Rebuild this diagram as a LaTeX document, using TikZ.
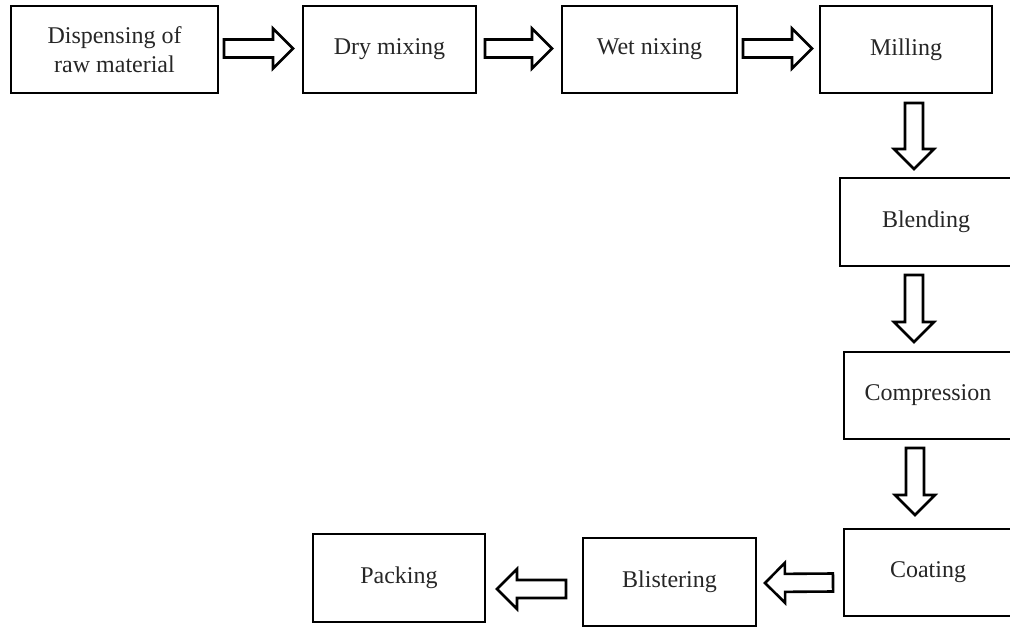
\documentclass[tikz,border=0pt]{standalone}
\usepackage{fontspec}
\setmainfont{Liberation Serif}
\usetikzlibrary{calc}
\tikzset{
  stepbox/.style={draw, line width=2.6pt, outer sep=0pt, inner sep=0pt,
    minimum width=#1, minimum height=87pt, align=center,
    font=\fontsize{24}{29}\selectfont, text=black!85},
  barrow/.style={draw, line width=2.6pt, line join=miter, fill=white,
    to path={
      ($(\tikztostart)!9pt!90:(\tikztotarget)$)
      -- ($(\tikztotarget)!20pt!(\tikztostart)!9pt!90:(\tikztotarget)$)
      -- ($(\tikztotarget)!20pt!(\tikztostart)!20pt!90:(\tikztotarget)$)
      -- (\tikztotarget)
      -- ($(\tikztotarget)!20pt!(\tikztostart)!20pt!-90:(\tikztotarget)$)
      -- ($(\tikztotarget)!20pt!(\tikztostart)!9pt!-90:(\tikztotarget)$)
      -- ($(\tikztostart)!9pt!-90:(\tikztotarget)$)
      -- cycle}}
}
\begin{document}
\begin{tikzpicture}[x=1pt,y=-1pt]
\useasboundingbox (0,0) rectangle (1010,627);
\node[stepbox=207pt] (n1) at (114.5,49.5) {Dispensing of\\raw material};
\node[stepbox=173pt] (n2) at (389.5,49.5) {Dry mixing};
\node[stepbox=175pt] (n3) at (649.5,49.5) {Wet nixing};
\node[stepbox=172pt] (n4) at (906,49.5) {Milling};
\node[stepbox=172pt, minimum height=88pt] (n5) at (926,222) {Blending};
\node[stepbox=168pt] (n6) at (928,395.5) {Compression};
\node[stepbox=168pt] (n7) at (928,572.5) {Coating};
\node[stepbox=173pt, minimum height=88pt] (n8) at (669.5,582) {Blistering};
\node[stepbox=172pt, minimum height=88pt] (n9) at (399,578) {Packing};

\draw[barrow] ($(n1.east)+(6,-1)$) to ($(n2.west)+(-10,-1)$);
\draw[barrow] ($(n2.east)+(9,-1)$) to ($(n3.west)+(-10,-1)$);
\draw[barrow] ($(n3.east)+(6,-1)$) to ($(n4.west)+(-8,-1)$);
\draw[barrow] ($(n4.south)+(8,10)$) to ($(n5.north)+(-12,-9)$);
\draw[barrow] ($(n5.south)+(-12,9)$) to ($(n6.north)+(-14,-10)$);
\draw[barrow] ($(n6.south)+(-13,9)$) to ($(n7.north)+(-13,-14)$);
\draw[barrow] ($(n7.west)+(-11,10)$) to ($(n8.east)+(9,1)$);
\draw[barrow] ($(n8.west)+(-17,7)$) to ($(n9.east)+(12,11)$);
\end{tikzpicture}
\end{document}
